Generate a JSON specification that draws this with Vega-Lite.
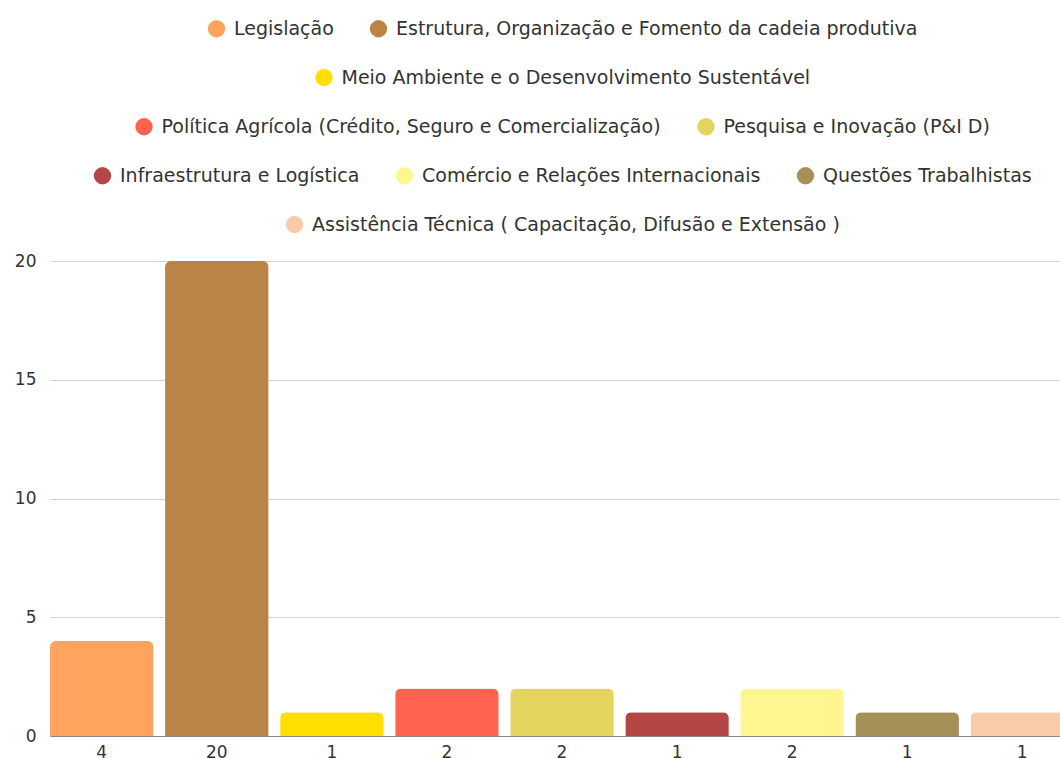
{
  "$schema": "https://vega.github.io/schema/vega-lite/v6.json",
  "width": 1024,
  "height": 475,
  "padding": {"left": 14, "top": 19, "right": 0, "bottom": 0},
  "background": "white",
  "data": {"values": [
    {"categoria": "Legislação", "total": 4},
    {"categoria": "Estrutura, Organização e Fomento da cadeia produtiva", "total": 20},
    {"categoria": "Meio Ambiente e o Desenvolvimento Sustentável", "total": 1},
    {"categoria": "Política Agrícola (Crédito, Seguro e Comercialização)", "total": 2},
    {"categoria": "Pesquisa e Inovação (P&I D)", "total": 2},
    {"categoria": "Infraestrutura e Logística", "total": 1},
    {"categoria": "Comércio e Relações Internacionais", "total": 2},
    {"categoria": "Questões Trabalhistas", "total": 1},
    {"categoria": "Assistência Técnica ( Capacitação, Difusão e Extensão )", "total": 1}
  ]},
  "encoding": {
    "x": {
      "field": "categoria", "type": "nominal", "title": null,
      "sort": ["Legislação", "Estrutura, Organização e Fomento da cadeia produtiva", "Meio Ambiente e o Desenvolvimento Sustentável", "Política Agrícola (Crédito, Seguro e Comercialização)", "Pesquisa e Inovação (P&I D)", "Infraestrutura e Logística", "Comércio e Relações Internacionais", "Questões Trabalhistas", "Assistência Técnica ( Capacitação, Difusão e Extensão )"],
      "scale": {"paddingInner": 0.1, "paddingOuter": 0},
      "axis": {
        "labelAngle": 0, "ticks": false, "labelPadding": 8, "domainColor": "#888888",
        "labelFontSize": 17, "labelColor": "#333333", "grid": false,
        "labelExpr": "datum.value == 'Legislação' ? '4' : datum.value == 'Estrutura, Organização e Fomento da cadeia produtiva' ? '20' : datum.value == 'Meio Ambiente e o Desenvolvimento Sustentável' ? '1' : datum.value == 'Política Agrícola (Crédito, Seguro e Comercialização)' ? '2' : datum.value == 'Pesquisa e Inovação (P&I D)' ? '2' : datum.value == 'Infraestrutura e Logística' ? '1' : datum.value == 'Comércio e Relações Internacionais' ? '2' : '1'"
      }
    },
    "y": {
      "field": "total", "type": "quantitative", "title": null,
      "scale": {"domain": [0, 20]},
      "axis": {"values": [0, 5, 10, 15, 20], "ticks": false, "domain": false, "labelPadding": 14, "labelFontSize": 17, "labelColor": "#333333", "gridColor": "#d4d4d4"}
    }
  },
  "layer": [
    {
      "transform": [{"filter": {"field": "categoria", "oneOf": ["Legislação", "Estrutura, Organização e Fomento da cadeia produtiva"]}}],
      "mark": {"type": "bar", "cornerRadiusTopLeft": 6, "cornerRadiusTopRight": 6},
      "encoding": {"color": {"field": "categoria", "type": "nominal", "title": null,
        "scale": {"domain": ["Legislação", "Estrutura, Organização e Fomento da cadeia produtiva"], "range": ["#FFA35E", "#B98445"]}}}
    },
    {
      "transform": [{"filter": {"field": "categoria", "oneOf": ["Meio Ambiente e o Desenvolvimento Sustentável"]}}],
      "mark": {"type": "bar", "cornerRadiusTopLeft": 6, "cornerRadiusTopRight": 6},
      "encoding": {"color": {"field": "categoria", "type": "nominal", "title": null,
        "scale": {"domain": ["Meio Ambiente e o Desenvolvimento Sustentável"], "range": ["#FFDF00"]}}}
    },
    {
      "transform": [{"filter": {"field": "categoria", "oneOf": ["Política Agrícola (Crédito, Seguro e Comercialização)", "Pesquisa e Inovação (P&I D)"]}}],
      "mark": {"type": "bar", "cornerRadiusTopLeft": 6, "cornerRadiusTopRight": 6},
      "encoding": {"color": {"field": "categoria", "type": "nominal", "title": null,
        "scale": {"domain": ["Política Agrícola (Crédito, Seguro e Comercialização)", "Pesquisa e Inovação (P&I D)"], "range": ["#FF634F", "#E4D35D"]}}}
    },
    {
      "transform": [{"filter": {"field": "categoria", "oneOf": ["Infraestrutura e Logística", "Comércio e Relações Internacionais", "Questões Trabalhistas"]}}],
      "mark": {"type": "bar", "cornerRadiusTopLeft": 6, "cornerRadiusTopRight": 6},
      "encoding": {"color": {"field": "categoria", "type": "nominal", "title": null,
        "scale": {"domain": ["Infraestrutura e Logística", "Comércio e Relações Internacionais", "Questões Trabalhistas"], "range": ["#B54646", "#FFF68F", "#A59057"]}}}
    },
    {
      "transform": [{"filter": {"field": "categoria", "oneOf": ["Assistência Técnica ( Capacitação, Difusão e Extensão )"]}}],
      "mark": {"type": "bar", "cornerRadiusTopLeft": 6, "cornerRadiusTopRight": 6},
      "encoding": {"color": {"field": "categoria", "type": "nominal", "title": null,
        "scale": {"domain": ["Assistência Técnica ( Capacitação, Difusão e Extensão )"], "range": ["#F9CBA9"]}}}
    }
  ],
  "resolve": {"scale": {"color": "independent"}, "legend": {"color": "independent"}},
  "config": {
    "font": "DejaVu Sans",
    "view": {"stroke": null},
    "legend": {
      "orient": "top",
      "direction": "horizontal",
      "symbolType": "circle",
      "symbolSize": 300,
      "symbolOpacity": 1,
      "symbolStrokeWidth": 0,
      "labelFontSize": 19,
      "labelColor": "#333333",
      "labelFont": "DejaVu Sans",
      "labelOffset": 8,
      "labelLimit": 700,
      "columnPadding": 35,
      "layout": {"top": {"anchor": "middle", "direction": "vertical", "center": true, "margin": 29, "offset": 26}}
    }
  }
}
